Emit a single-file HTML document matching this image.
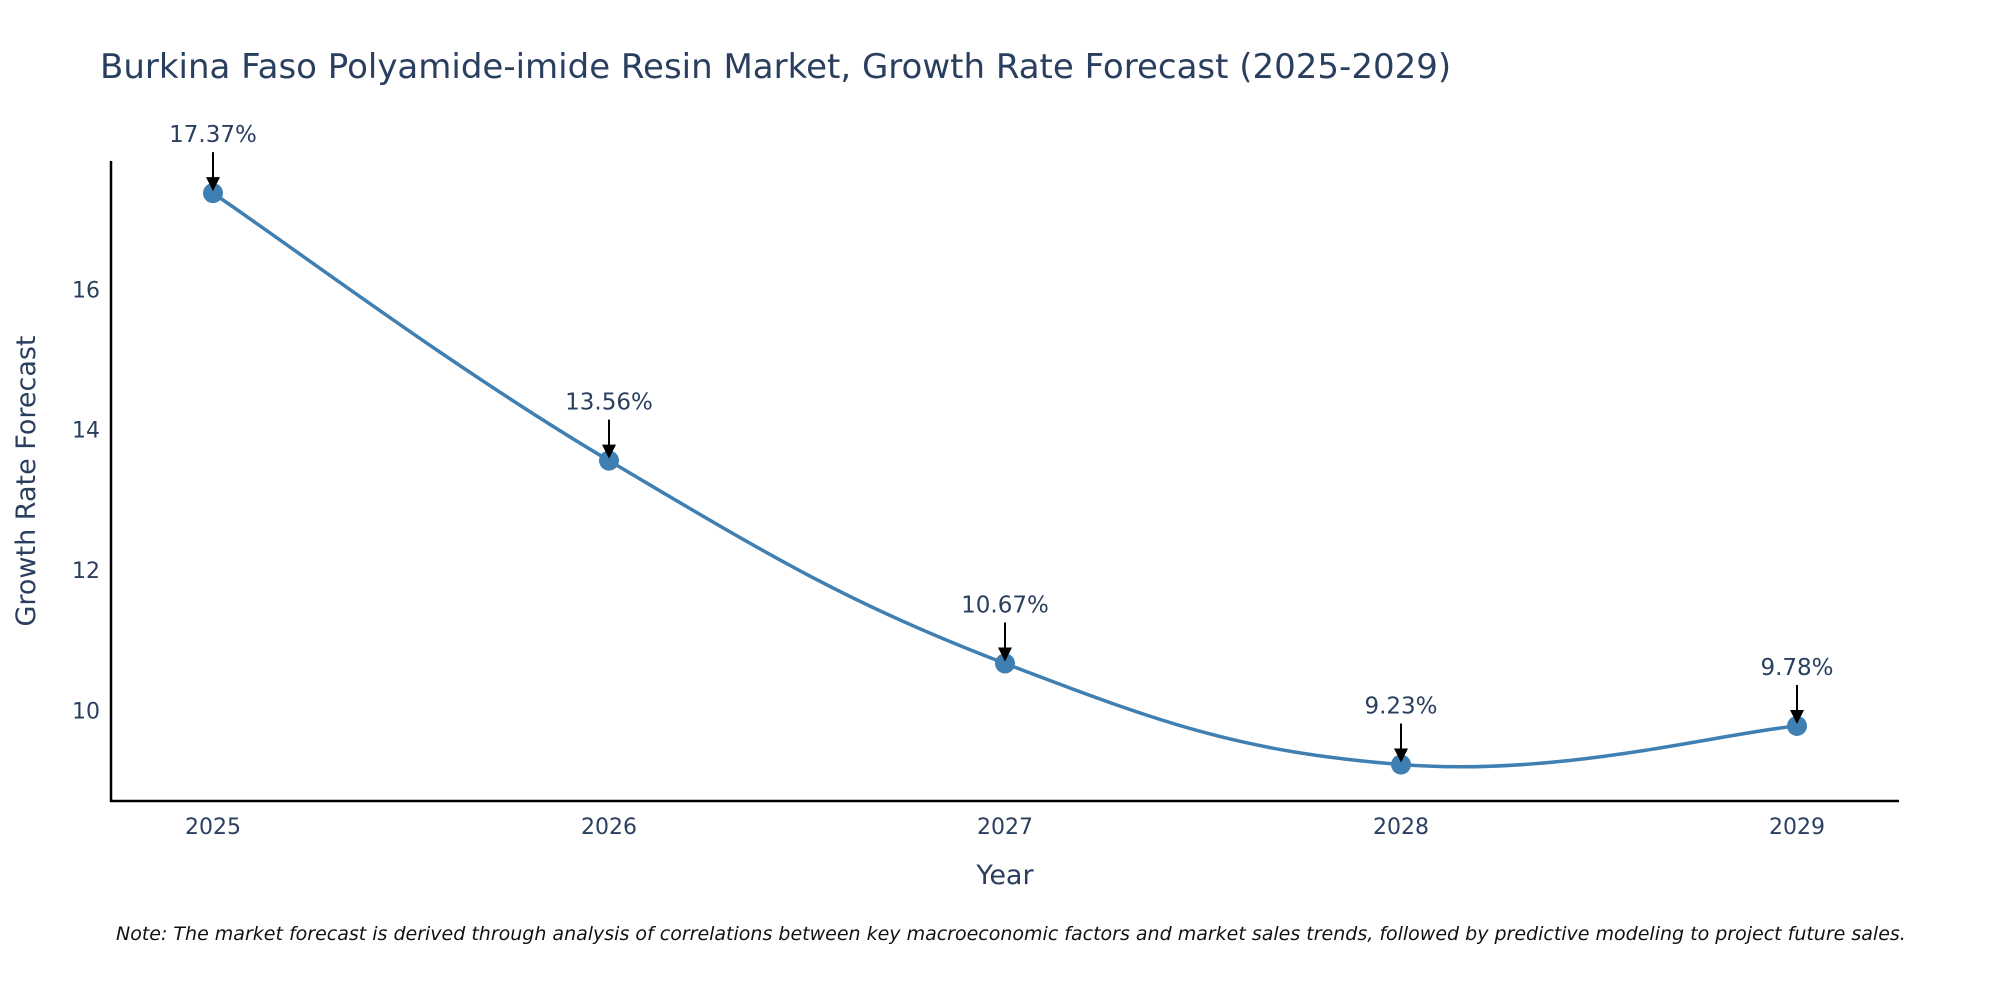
<!DOCTYPE html>
<html><head><meta charset="utf-8"><style>
html,body{margin:0;padding:0;background:#fff;}
svg text{font-family:"DejaVu Sans","Liberation Sans",sans-serif;}
</style></head><body>
<svg id="chart" width="2000" height="1000" xmlns="http://www.w3.org/2000/svg">
<text x="100" y="78" font-size="34" fill="#2a3f5f">Burkina Faso Polyamide-imide Resin Market, Growth Rate Forecast (2025-2029)</text>
<g id="yticks"></g>
<g id="xticks"></g>
<line x1="111" y1="161" x2="111" y2="802" stroke="#000" stroke-width="2.5"/>
<line x1="110" y1="801" x2="1899" y2="801" stroke="#000" stroke-width="2.5"/>
<g id="series"></g>
<g id="annots"></g>
<text transform="translate(35,481) rotate(-90)" text-anchor="middle" font-size="27" fill="#2a3f5f">Growth Rate Forecast</text>
<text x="1005" y="884" text-anchor="middle" font-size="27" fill="#2a3f5f">Year</text>
<text x="116" y="940" font-size="19" font-style="italic" fill="#111">Note: The market forecast is derived through analysis of correlations between key macroeconomic factors and market sales trends, followed by predictive modeling to project future sales.</text>
</svg>
<script>
const years = [2025, 2026, 2027, 2028, 2029];
const growth = [17.37, 13.56, 10.67, 9.23, 9.78];
const yTickVals = [10, 12, 14, 16];
const NS = "http://www.w3.org/2000/svg";
function xScale(y){ return 213 + (y - 2025) * 396; }
function yScale(v){ return 710.5 - (v - 10) * 70.2; }
function mk(tag, attrs, parent){ const e=document.createElementNS(NS,tag); for(const k in attrs) e.setAttribute(k,attrs[k]); parent.appendChild(e); return e; }
const yt=document.getElementById('yticks');
yTickVals.forEach(v=>{
  const t=mk('text',{x:100,y:yScale(v)+8,'text-anchor':'end','font-size':22,fill:'#2a3f5f'},yt);
  
  
  t.textContent=v;
});
const xt=document.getElementById('xticks');
years.forEach(y=>{
  const t=mk('text',{x:xScale(y),y:834,'text-anchor':'middle','font-size':22,fill:'#2a3f5f'},xt);
  
  
  t.textContent=y;
});
const pts=years.map((y,i)=>[xScale(y),yScale(growth[i])]);
let d='M'+pts[0][0]+','+pts[0][1];
const s=0.2;
for(let i=0;i<pts.length-1;i++){
  const p0=pts[Math.max(0,i-1)],p1=pts[i],p2=pts[i+1],p3=pts[Math.min(pts.length-1,i+2)];
  const c1=[p1[0]+(p2[0]-p0[0])*s,p1[1]+(p2[1]-p0[1])*s];
  const c2=[p2[0]-(p3[0]-p1[0])*s,p2[1]-(p3[1]-p1[1])*s];
  d+=' C'+c1[0]+','+c1[1]+' '+c2[0]+','+c2[1]+' '+p2[0]+','+p2[1];
}
const sg=document.getElementById('series');
const line=mk('path',{d:d,fill:'none',stroke:'#3f7fb1','stroke-width':3.5},sg);


pts.forEach(p=>{
  const c=mk('circle',{cx:p[0],cy:p[1],r:10,fill:'#3f7fb1'},sg);
  
  
});
const ag=document.getElementById('annots');
pts.forEach((p,i)=>{
  const l=mk('line',{x1:p[0],y1:p[1]-41,x2:p[0],y2:p[1]-14,stroke:'#000','stroke-width':2},ag);
  
  
  const h=mk('polygon',{points:(p[0]-7)+','+(p[1]-16)+' '+(p[0]+7)+','+(p[1]-16)+' '+p[0]+','+(p[1]-2),fill:'#000'},ag);
  
  
  const t=mk('text',{x:p[0],y:p[1]-51,'text-anchor':'middle','font-size':23,fill:'#2a3f5f'},ag);
  
  
  t.textContent=growth[i].toFixed(2)+'%';
});
</script>
</body></html>
